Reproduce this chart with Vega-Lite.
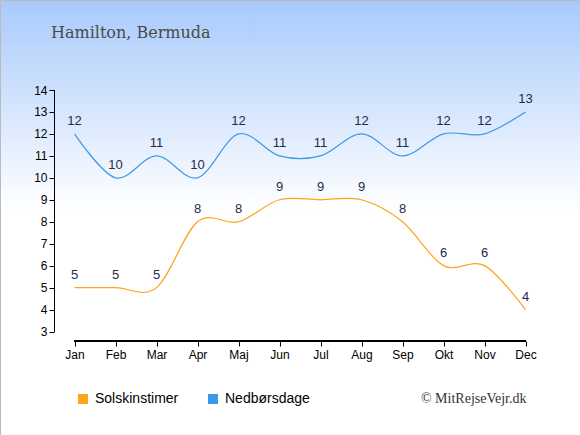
{
  "$schema": "https://vega.github.io/schema/vega-lite/v6.json",
  "width": 580,
  "height": 435,
  "autosize": "none",
  "padding": 0,
  "background": "white",
  "title": {
    "text": "Hamilton, Bermuda",
    "anchor": "start",
    "frame": "group",
    "offset": 0,
    "dx": 51,
    "dy": 54,
    "baseline": "alphabetic",
    "font": "DejaVu Serif",
    "fontSize": 16,
    "fontWeight": "normal",
    "color": "#4a4a4a"
  },
  "data": {
    "values": [
      {"month": "Jan", "series": "Solskinstimer", "value": 5},
      {"month": "Feb", "series": "Solskinstimer", "value": 5},
      {"month": "Mar", "series": "Solskinstimer", "value": 5},
      {"month": "Apr", "series": "Solskinstimer", "value": 8},
      {"month": "Maj", "series": "Solskinstimer", "value": 8},
      {"month": "Jun", "series": "Solskinstimer", "value": 9},
      {"month": "Jul", "series": "Solskinstimer", "value": 9},
      {"month": "Aug", "series": "Solskinstimer", "value": 9},
      {"month": "Sep", "series": "Solskinstimer", "value": 8},
      {"month": "Okt", "series": "Solskinstimer", "value": 6},
      {"month": "Nov", "series": "Solskinstimer", "value": 6},
      {"month": "Dec", "series": "Solskinstimer", "value": 4},
      {"month": "Jan", "series": "Nedbørsdage", "value": 12},
      {"month": "Feb", "series": "Nedbørsdage", "value": 10},
      {"month": "Mar", "series": "Nedbørsdage", "value": 11},
      {"month": "Apr", "series": "Nedbørsdage", "value": 10},
      {"month": "Maj", "series": "Nedbørsdage", "value": 12},
      {"month": "Jun", "series": "Nedbørsdage", "value": 11},
      {"month": "Jul", "series": "Nedbørsdage", "value": 11},
      {"month": "Aug", "series": "Nedbørsdage", "value": 12},
      {"month": "Sep", "series": "Nedbørsdage", "value": 11},
      {"month": "Okt", "series": "Nedbørsdage", "value": 12},
      {"month": "Nov", "series": "Nedbørsdage", "value": 12},
      {"month": "Dec", "series": "Nedbørsdage", "value": 13}
    ]
  },
  "encoding": {
    "x": {
      "field": "month",
      "type": "ordinal",
      "sort": ["Jan", "Feb", "Mar", "Apr", "Maj", "Jun", "Jul", "Aug", "Sep", "Okt", "Nov", "Dec"],
      "scale": {"type": "point", "range": [33.5, 566.5], "padding": 1},
      "axis": {
        "orient": "bottom",
        "offset": -94,
        "domain": false,
        "grid": false,
        "labelAngle": 0,
        "tickColor": "black",
        "tickSize": 5,
        "labelFont": "Liberation Sans",
        "labelFontSize": 12,
        "labelColor": "black",
        "labelPadding": 3,
        "title": "© MitRejseVejr.dk",
        "titleFont": "Liberation Serif",
        "titleFontSize": 14,
        "titleFontWeight": "normal",
        "titleColor": "#333333",
        "titleX": 526,
        "titleY": 61,
        "titleAlign": "right",
        "titleBaseline": "alphabetic"
      }
    },
    "y": {
      "field": "value",
      "type": "quantitative",
      "scale": {"domain": [-1.714, 18.1], "nice": false, "zero": false},
      "axis": {
        "values": [3, 4, 5, 6, 7, 8, 9, 10, 11, 12, 13, 14],
        "offset": -54,
        "domain": false,
        "grid": false,
        "tickColor": "black",
        "tickSize": 5,
        "labelFont": "Liberation Sans",
        "labelFontSize": 12,
        "labelColor": "black",
        "labelPadding": 2,
        "title": null
      }
    }
  },
  "layer": [
    {
      "mark": {"type": "rule", "color": "black", "xOffset": -20},
      "encoding": {
        "x": {"datum": "Jan"},
        "y": {"datum": 3},
        "y2": {"datum": 14}
      }
    },
    {
      "mark": {"type": "rule", "color": "black", "yOffset": 9.5},
      "encoding": {
        "x": {"datum": "Jan"},
        "x2": {"datum": "Dec"},
        "y": {"datum": 3}
      }
    },
    {
      "mark": {"type": "line", "interpolate": "cardinal", "strokeWidth": 1.2},
      "encoding": {
        "color": {
          "field": "series",
          "type": "nominal",
          "scale": {"domain": ["Solskinstimer", "Nedbørsdage"], "range": ["#ffa31a", "#3d98e6"]},
          "legend": {
            "orient": "none",
            "legendX": 76,
            "legendY": 392,
            "direction": "horizontal",
            "title": null,
            "symbolType": "square",
            "symbolSize": 100,
            "symbolStrokeWidth": 0,
            "symbolOpacity": 1,
            "labelFont": "Liberation Sans",
            "labelFontSize": 14,
            "labelColor": "black",
            "labelOffset": 5,
            "columnPadding": 27,
            "encode": {
              "symbols": {
                "update": {
                  "fill": {"scale": "color", "field": "value"},
                  "stroke": {"value": "transparent"}
                }
              }
            }
          }
        }
      }
    },
    {
      "mark": {
        "type": "text",
        "dy": -9,
        "baseline": "alphabetic",
        "font": "Liberation Sans",
        "fontSize": 13,
        "color": "#1e2c4c"
      },
      "encoding": {
        "text": {"field": "value", "type": "quantitative"}
      }
    }
  ],
  "config": {
    "view": {
      "fill": {
        "gradient": "linear",
        "x1": 0, "y1": 0, "x2": 0, "y2": 1,
        "stops": [
          {"offset": 0, "color": "#a8cafb"},
          {"offset": 0.48, "color": "#ffffff"},
          {"offset": 1, "color": "#ffffff"}
        ]
      },
      "stroke": "#bbbbbb"
    }
  }
}
